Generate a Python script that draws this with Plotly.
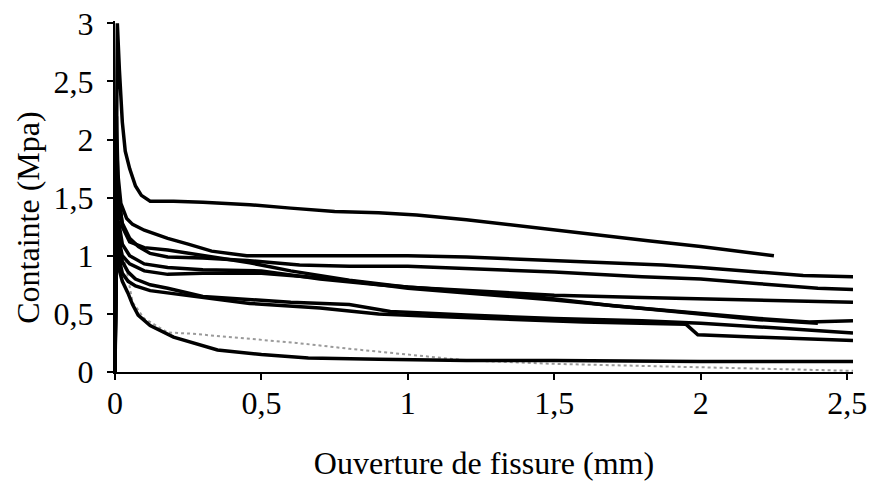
import plotly.graph_objects as go

# ---- data ----
top_x = [0, 0.004, 0.008, 0.015, 0.025, 0.035, 0.05, 0.07, 0.09, 0.12, 0.2, 0.3, 0.46, 0.6, 0.75, 0.9, 1.03, 1.2, 1.4, 1.6, 1.82, 2.0, 2.1, 2.25]
top_y = [0, 1.6, 3.0, 2.6, 2.15, 1.9, 1.75, 1.6, 1.52, 1.47, 1.47, 1.46, 1.44, 1.41, 1.38, 1.37, 1.35, 1.31, 1.25, 1.19, 1.13, 1.08, 1.05, 1.0]

a_x = [0, 0.005, 0.01, 0.02, 0.04, 0.06, 0.1, 0.18, 0.25, 0.33, 0.45, 0.6, 0.8, 1.0, 1.2, 1.5, 1.87, 2.0, 2.2, 2.35, 2.52]
a_y = [0, 2.2, 1.7, 1.45, 1.32, 1.27, 1.22, 1.15, 1.1, 1.04, 1.0, 1.0, 1.0, 1.0, 0.99, 0.96, 0.92, 0.9, 0.86, 0.83, 0.82]

b_x = [0, 0.005, 0.012, 0.025, 0.05, 0.08, 0.12, 0.18, 0.3, 0.45, 0.63, 0.8, 1.0, 1.2, 1.5, 1.8, 2.0, 2.2, 2.4, 2.52]
b_y = [0, 1.9, 1.5, 1.28, 1.15, 1.08, 1.02, 0.99, 0.98, 0.96, 0.92, 0.91, 0.91, 0.89, 0.86, 0.82, 0.8, 0.76, 0.72, 0.71]

c_x = [0, 0.005, 0.012, 0.025, 0.05, 0.1, 0.18, 0.3, 0.46, 0.6, 0.8, 1.0, 1.2, 1.5, 1.8, 2.0, 2.25, 2.52]
c_y = [0, 2.0, 1.55, 1.25, 1.12, 1.07, 1.05, 1.0, 0.94, 0.87, 0.79, 0.73, 0.7, 0.66, 0.64, 0.63, 0.61, 0.6]

d_x = [0, 0.005, 0.012, 0.025, 0.05, 0.1, 0.18, 0.3, 0.5, 0.7, 0.9, 1.0, 1.2, 1.43, 1.7, 2.0, 2.2, 2.37, 2.52]
d_y = [0, 1.6, 1.3, 1.1, 1.0, 0.93, 0.9, 0.88, 0.87, 0.8, 0.75, 0.73, 0.69, 0.65, 0.57, 0.5, 0.46, 0.43, 0.44]

h_x = [0, 0.005, 0.012, 0.025, 0.05, 0.1, 0.18, 0.3, 0.5, 0.75, 1.0, 1.25, 1.5, 1.75, 2.0, 2.2, 2.4]
h_y = [0, 1.4, 1.15, 1.0, 0.93, 0.87, 0.84, 0.85, 0.85, 0.8, 0.72, 0.67, 0.62, 0.56, 0.5, 0.45, 0.42]

e_x = [0, 0.005, 0.012, 0.025, 0.045, 0.07, 0.12, 0.18, 0.3, 0.46, 0.6, 0.8, 0.94, 1.2, 1.5, 1.8, 2.0, 2.25, 2.52]
e_y = [0, 1.5, 1.15, 0.95, 0.86, 0.8, 0.75, 0.72, 0.65, 0.62, 0.6, 0.58, 0.52, 0.49, 0.46, 0.44, 0.42, 0.38, 0.335]

f_x = [0, 0.005, 0.012, 0.025, 0.045, 0.07, 0.12, 0.18, 0.3, 0.46, 0.7, 0.9, 1.08, 1.3, 1.6, 1.95, 1.99, 2.2, 2.52]
f_y = [0, 1.3, 1.0, 0.85, 0.78, 0.74, 0.7, 0.68, 0.64, 0.59, 0.55, 0.5, 0.48, 0.46, 0.43, 0.41, 0.32, 0.3, 0.27]

g_x = [0, 0.005, 0.012, 0.025, 0.044, 0.06, 0.079, 0.12, 0.2, 0.35, 0.5, 0.66, 0.9, 1.2, 1.5, 2.0, 2.52]
g_y = [0, 1.0, 0.9, 0.78, 0.68, 0.58, 0.49, 0.4, 0.3, 0.19, 0.15, 0.12, 0.11, 0.1, 0.1, 0.09, 0.09]

gray_x = [0, 0.005, 0.012, 0.025, 0.034, 0.06, 0.1, 0.18, 0.26, 0.43, 0.62, 0.8, 0.97, 1.2, 1.5, 2.0, 2.52]
gray_y = [0, 1.0, 0.95, 0.98, 0.95, 0.6, 0.46, 0.34, 0.33, 0.29, 0.25, 0.2, 0.16, 0.1, 0.07, 0.04, 0.01]

x_tickvals = [0, 0.5, 1, 1.5, 2, 2.5]
x_ticktext = ["0", "0,5", "1", "1,5", "2", "2,5"]
y_tickvals = [0, 0.5, 1, 1.5, 2, 2.5, 3]
y_ticktext = ["0", "0,5", "1", "1,5", "2", "2,5", "3"]

black_series = [(top_x, top_y), (a_x, a_y), (b_x, b_y), (c_x, c_y), (d_x, d_y),
                (h_x, h_y), (e_x, e_y), (f_x, f_y), (g_x, g_y)]

fig = go.Figure()
fig.add_trace(go.Scatter(x=gray_x, y=gray_y, mode="lines",
                         line=dict(color="#9a9a9a", width=2, dash="dot"),
                         showlegend=False, hoverinfo="skip", cliponaxis=False))
for xs, ys in black_series:
    fig.add_trace(go.Scatter(x=xs, y=ys, mode="lines",
                             line=dict(color="black", width=3.5),
                             showlegend=False, hoverinfo="skip", cliponaxis=False))

font_family = "Liberation Serif"
fig.update_layout(
    width=870, height=486,
    margin=dict(l=115, r=17, t=21, b=114, autoexpand=False),
    paper_bgcolor="white", plot_bgcolor="white",
    font=dict(family=font_family, color="black", size=32),
    showlegend=False,
    xaxis=dict(range=[0, 2.52], tickvals=x_tickvals, ticktext=x_ticktext,
               automargin=False, ticklabeloverflow="allow",
               showgrid=False, zeroline=False, showline=True, linecolor="black",
               linewidth=2, ticks="outside", ticklen=6, tickwidth=1.5, tickcolor="black",
               ticklabelstandoff=-4,
               tickfont=dict(size=32),
               title=dict(text="Ouverture de fissure (mm)", font=dict(size=32), standoff=31)),
    yaxis=dict(range=[0, 3.02], tickvals=y_tickvals, ticktext=y_ticktext,
               automargin=False, ticklabeloverflow="allow",
               showgrid=False, zeroline=False, showline=True, linecolor="black",
               linewidth=2, ticks="outside", ticklen=6, tickwidth=1.5, tickcolor="black",
               ticklabelstandoff=7,
               tickfont=dict(size=32)),
    annotations=[dict(text="Containte (Mpa)", xref="paper", yref="paper",
                      x=-0.119, y=0.44, xanchor="center", yanchor="middle",
                      textangle=-90, showarrow=False, font=dict(size=32))],
)

# remove the default page margin so the 870x486 figure fills the window exactly
fig.write_html("out.html",
               config={"displayModeBar": False},
               post_script="document.body.style.margin='0';document.body.style.overflow='hidden';")
